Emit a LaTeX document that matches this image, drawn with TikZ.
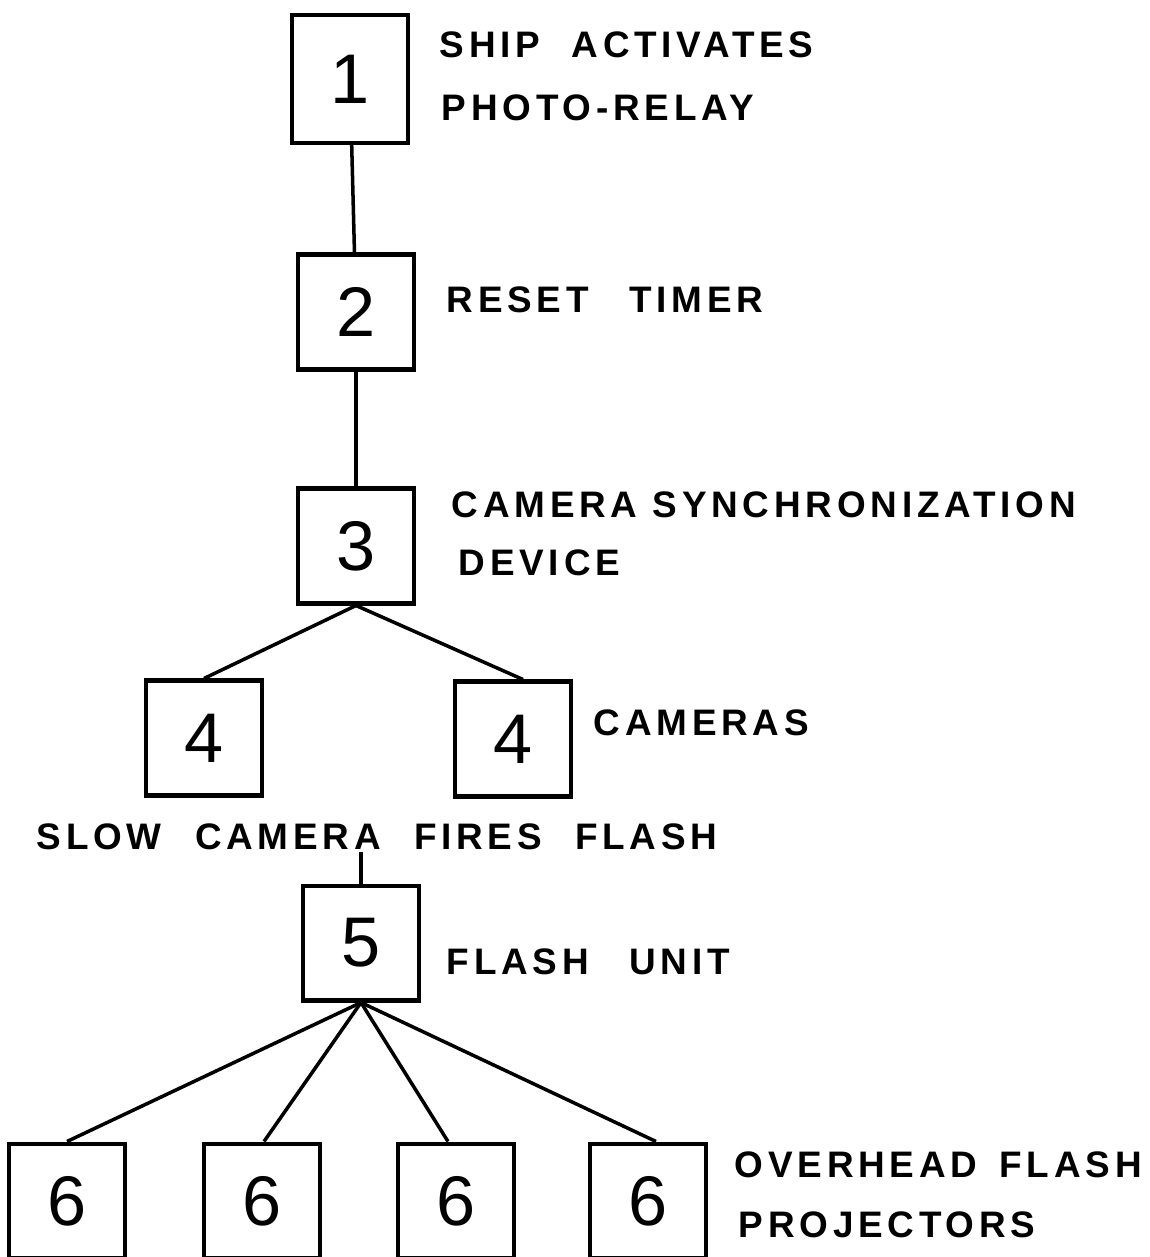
\documentclass[tikz,border=0pt]{standalone}
\usepackage{fontspec}
\setmainfont{Liberation Sans}
\newfontfamily\notefont[LetterSpace=13]{Liberation Sans}
\usepackage{tikz}

\begin{document}
\begin{tikzpicture}[
    x=0.02cm, y=-0.02cm,
    line width=2pt,
    stepbox/.style={draw, line width=2.3pt, minimum width=2.32cm,
      minimum height=2.3cm, inner sep=0pt,
      font=\fontsize{40}{40}\selectfont},
    note/.style={anchor=west, inner sep=0pt,
      font=\notefont\bfseries\fontsize{21}{24}\selectfont}
  ]
    \useasboundingbox (0,0) rectangle (1149,1257);
    \clip (0,0) rectangle (1149,1257);

    % boxes
    \node[stepbox, minimum height=2.56cm] (b1) at (350,79) {1};
    \node[stepbox] (b2) at (356,312) {2};
    \node[stepbox] (b3) at (356,546) {3};
    \node[stepbox] (b4l) at (204,738) {4};
    \node[stepbox] (b4r) at (513,739) {4};
    \node[stepbox] (b5) at (361,943) {5};
    \node[stepbox] (b6a) at (67,1201) {6};
    \node[stepbox] (b6b) at (262,1201) {6};
    \node[stepbox] (b6c) at (456,1201) {6};
    \node[stepbox] (b6d) at (648,1201) {6};

    % labels
    \node[note] (ship) at (438,45) {SHIP\hspace{0.85em}ACTIVATES};
    \node[note] (relay) at (440,108) {PHOTO-RELAY};
    \node[note] (reset) at (445,300) {RESET\hspace{1.1em}TIMER};
    \node[note] (sync) at (450,505) {CAMERA SYNCHRONIZATION};
    \node[note] (device) at (457,563) {DEVICE};
    \node[note] (cams) at (592,723) {CAMERAS};
    \node[note] (slow) at (35,837)
      {SLOW\hspace{0.9em}CAMERA\hspace{0.9em}FIRES\hspace{0.9em}FLASH};
    \node[note] (unit) at (445,962) {FLASH\hspace{1.1em}UNIT};
    \node[note] (overhead) at (733,1165) {OVERHEAD\hspace{0.6em}FLASH};
    \node[note] (proj) at (737,1225) {PROJECTORS};

    % connectors
    \draw (b1) -- (b2);
    \draw (b2) -- (b3);
    \draw (b3.south) -- (b4l.north);
    \draw (b3.south) -- ([xshift=0.2cm]b4r.north);
    \draw (b5.north) -- (b5.north |- slow.south);
    \draw (b5.south) -- (b6a.north);
    \draw (b5.south) -- ([xshift=0.04cm]b6b.north);
    \draw (b5.south) -- ([xshift=-0.16cm]b6c.north);
    \draw (b5.south) -- ([xshift=0.16cm]b6d.north);
  \end{tikzpicture}
\end{document}
